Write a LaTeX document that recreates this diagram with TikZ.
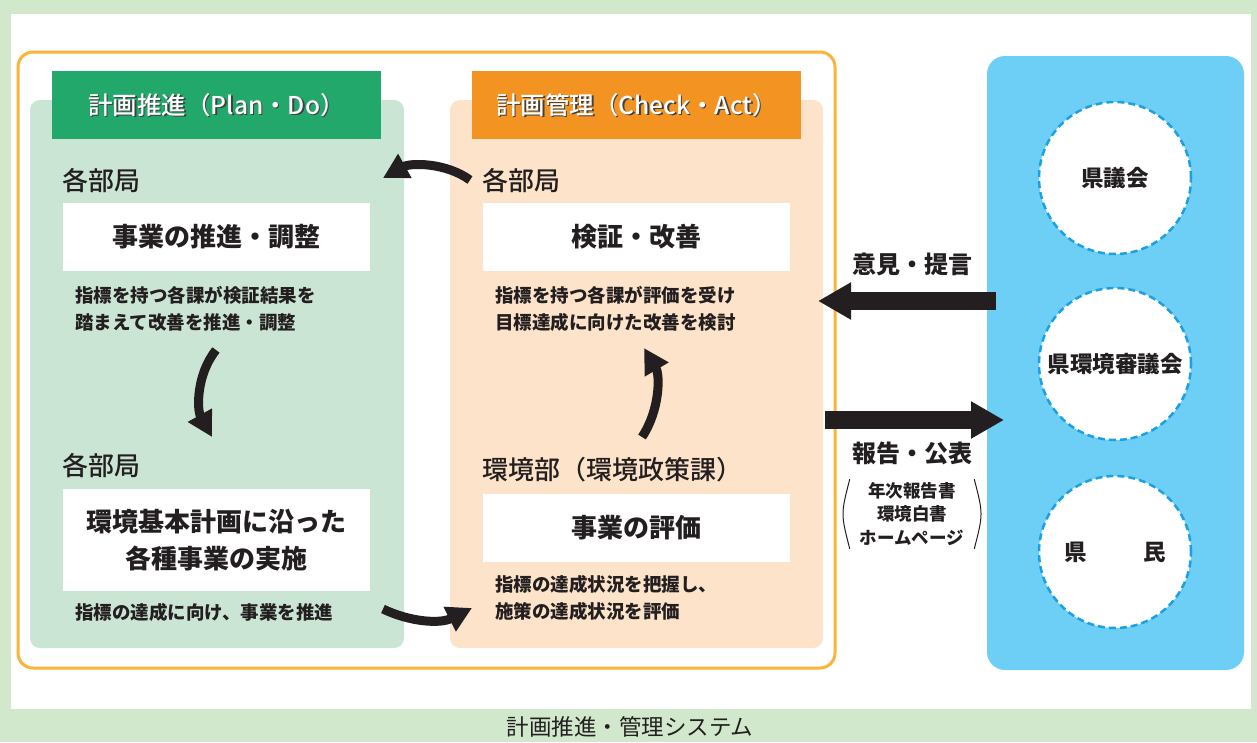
\documentclass[tikz,border=0pt]{standalone}
\usepackage{fontspec}
\setmainfont{Noto Sans CJK JP}
\newfontfamily\medf{Noto Sans CJK JP Medium}
\usetikzlibrary{arrows.meta,calc}
\definecolor{bgG}{RGB}{209,232,204}
\definecolor{frO}{RGB}{251,180,55}
\definecolor{pnG}{RGB}{203,229,212}
\definecolor{hdG}{RGB}{34,168,106}
\definecolor{pnO}{RGB}{253,227,201}
\definecolor{hdO}{RGB}{243,147,33}
\definecolor{pnB}{RGB}{109,207,246}
\definecolor{ciB}{RGB}{27,161,226}
\definecolor{ink}{RGB}{35,31,32}
\tikzset{%
    pan/.style={rectangle,rounded corners=10pt,inner sep=0pt},
    hed/.style={rectangle,inner sep=0pt,minimum width=329pt,minimum height=68pt},
    htx/.style={text=white,font=\medf\fontsize{24.5}{28}\selectfont},
    lab/.style={anchor=west,inner sep=0pt,text=ink,font=\medf\fontsize{26}{30}\selectfont},
    box/.style={rectangle,fill=white,inner sep=0pt,minimum width=307pt,align=center,text=ink,font=\bfseries\fontsize{26}{37}\selectfont},
    txt/.style={anchor=west,inner sep=0pt,align=left,text=ink,font=\bfseries\fontsize{18.5}{26.5}\selectfont},
    cir/.style={circle,fill=white,draw=ciB,line width=2.5pt,dash pattern=on 7pt off 4pt,minimum size=152pt,text=ink,font=\bfseries\fontsize{22.5}{26}\selectfont},
    cur/.style={draw=ink,line width=9pt,-{Triangle[length=25pt,width=26pt]}},
    fat/.style={draw=ink,line width=18pt,-{Triangle[length=33pt,width=35pt]}}
}

\begin{document}
\begin{tikzpicture}[x=1pt,y=-1pt]
    \fill[bgG] (0,0) rectangle (1257,742);
    \fill[white] (11,14) rectangle (1251,709);
    \useasboundingbox (0,0) rectangle (1257,742);
    \node[text=ink,font=\fontsize{22.5}{26}\selectfont] (cap) at (630,727) {計画推進・管理システム};
    % plan-do side
    \node[pan,fill=pnG,minimum width=374pt,minimum height=548pt] (gpan) at (217,374) {};
    \node[hed,fill=hdG] (ghed) at (216.5,105) {};
    \node[htx,text=black!75] at ($(ghed)+(1.5,1.5)$) {計画推進（Plan・Do）};
    \node[htx] (ghtx) at (ghed) {計画推進（Plan・Do）};
    \node[lab] (glab1) at (62,181) {各部局};
    \node[box,minimum height=68pt] (gbox1) at (216.5,237) {事業の推進・調整};
    \node[txt] (gtxt1) at (75,309) {指標を持つ各課が検証結果を\\踏まえて改善を推進・調整};
    \node[lab] (glab2) at (62,466) {各部局};
    \node[box,minimum height=102pt] (gbox2) at (216.5,540) {環境基本計画に沿った\\各種事業の実施};
    \node[txt] (gtxt2) at (75,612) {指標の達成に向け、事業を推進};
    % check-act side
    \node[pan,fill=pnO,minimum width=373pt,minimum height=548pt] (opan) at (636.5,374) {};
    \node[hed,fill=hdO] (ohed) at (636.5,105) {};
    \node[htx,text=black!75] at ($(ohed)+(1.5,1.5)$) {計画管理（Check・Act）};
    \node[htx] (ohtx) at (ohed) {計画管理（Check・Act）};
    \node[lab] (olab1) at (482,181) {各部局};
    \node[box,minimum height=68pt] (obox1) at (636.5,237) {検証・改善};
    \node[txt] (otxt1) at (495,309) {指標を持つ各課が評価を受け\\目標達成に向けた改善を検討};
    \node[lab] (olab2) at (482,470) {環境部（環境政策課）};
    \node[box,minimum height=68pt] (obox2) at (636.5,528) {事業の評価};
    \node[txt] (otxt2) at (495,598) {指標の達成状況を把握し、\\施策の達成状況を評価};
    \node[pan,draw=frO,line width=3pt,rounded corners=15pt,minimum width=817pt,minimum height=616pt] (frame) at (426.5,360) {};
    % cycle arrows
    \coordinate (t1) at (470,180);  \coordinate (h1) at (383,178);
    \coordinate (t2) at (216,350);  \coordinate (h2) at (212,437);
    \coordinate (t3) at (383,609);  \coordinate (h3) at (472,608);
    \coordinate (t4) at (642,437);  \coordinate (h4) at (644,348);
    \draw[cur] (t1) .. controls (445,162) and (410,163) .. (h1);
    \draw[cur] (t2) .. controls (196,375) and (197,410) .. (h2);
    \draw[cur] (t3) .. controls (410,622) and (440,624) .. (h3);
    \draw[cur] (t4) .. controls (660,410) and (660,375) .. (h4);
    % citizens side
    \node[pan,fill=pnB,rounded corners=18pt,minimum width=257pt,minimum height=614pt] (bpan) at (1115.5,363) {};
    \node[cir] (c1) at (1115,178) {県議会};
    \node[cir] (c2) at (1115,364) {県環境審議会};
    \node[cir] (c3) at (1115,552) {県\hspace{2.5em}民};
    \coordinate (ft) at (996,301);  \coordinate (fh) at (818,301);
    \coordinate (rt) at (825,420);  \coordinate (rh) at (1004,420);
    \draw[fat] (ft) -- (fh);
    \draw[fat] (rt) -- (rh);
    \node[text=ink,font=\bfseries\fontsize{24}{28}\selectfont] (iken) at (912,264) {意見・提言};
    \node[text=ink,font=\bfseries\fontsize{24}{28}\selectfont] (hokoku) at (912,453) {報告・公表};
    \node[text=ink,align=center,inner xsep=10pt,inner ysep=3pt,font=\bfseries\fontsize{17.5}{23.5}\selectfont] (pnote) at (912,514) {年次報告書\\環境白書\\ホームページ};
    \draw[ink,line width=1pt] (pnote.north west) .. controls ($(pnote.west)+(-9,0)$) .. (pnote.south west);
    \draw[ink,line width=1pt] (pnote.north east) .. controls ($(pnote.east)+(9,0)$) .. (pnote.south east);
\end{tikzpicture}
\end{document}
